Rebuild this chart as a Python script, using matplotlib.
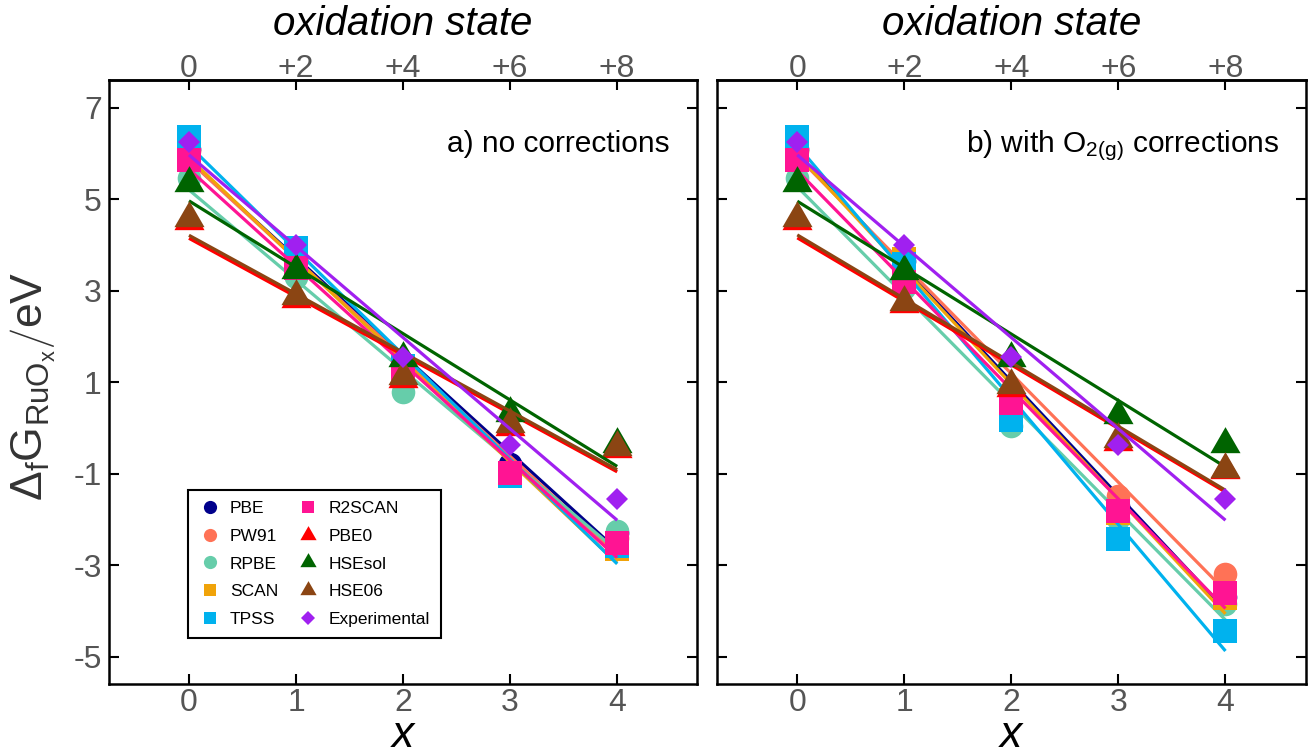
import numpy as np
import matplotlib
matplotlib.use("Agg")
import matplotlib.pyplot as plt
from matplotlib.path import Path
from matplotlib.lines import Line2D

plt.rcParams['font.family'] = ['Liberation Sans', 'DejaVu Sans']
plt.rcParams['mathtext.fontset'] = 'custom'
plt.rcParams['mathtext.rm'] = 'Liberation Sans'
plt.rcParams['mathtext.it'] = 'Liberation Sans:italic'
plt.rcParams['mathtext.bf'] = 'Liberation Sans:bold'
plt.rcParams['axes.unicode_minus'] = False

# ---------------- data ----------------
x_vals = [0, 1, 2, 3, 4]
oxidation_labels = ['0', '+2', '+4', '+6', '+8']
methods = ['PBE', 'PW91', 'RPBE', 'SCAN', 'TPSS', 'R2SCAN', 'PBE0', 'HSEsol', 'HSE06', 'Experimental']

# a) no corrections
pbe_a    = [6.10, 3.70, 1.25, -0.80, -2.30]
pw91_a   = [6.05, 3.70, 1.25, -0.95, -2.40]
rpbe_a   = [5.45, 3.30, 0.79, -1.00, -2.26]
scan_a   = [6.05, 3.70, 1.30, -1.06, -2.64]
tpss_a   = [6.35, 3.93, 1.35, -1.05, -2.59]
r2scan_a = [5.86, 3.49, 1.19, -0.99, -2.51]
pbe0_a   = [4.51, 2.82, 1.07, 0.02, -0.47]
hsesol_a = [5.34, 3.45, 1.53, 0.32, -0.35]
hse06_a  = [4.58, 2.87, 1.13, 0.08, -0.43]
exp_a    = [6.24, 4.00, 1.55, -0.38, -1.55]

# b) with O2(g) corrections
pbe_b    = [6.10, 3.65, 0.70, -1.70, -3.70]
pw91_b   = [6.05, 3.75, 0.80, -1.49, -3.20]
rpbe_b   = [5.45, 3.05, 0.03, -2.00, -3.86]
scan_b   = [6.05, 3.70, 0.60, -1.86, -3.72]
tpss_b   = [6.35, 3.59, 0.17, -2.43, -4.45]
r2scan_b = [5.86, 3.19, 0.54, -1.81, -3.60]
pbe0_b   = [4.51, 2.71, 0.88, -0.30, -0.93]
hsesol_b = [5.34, 3.43, 1.53, 0.29, -0.35]
hse06_b  = [4.58, 2.76, 0.93, -0.25, -0.89]
exp_b    = [6.24, 4.00, 1.55, -0.38, -1.55]

panel_a = [pbe_a, pw91_a, rpbe_a, scan_a, tpss_a, r2scan_a, pbe0_a, hsesol_a, hse06_a, exp_a]
panel_b = [pbe_b, pw91_b, rpbe_b, scan_b, tpss_b, r2scan_b, pbe0_b, hsesol_b, hse06_b, exp_b]

colors = ['#00008B', '#FF7256', '#66CDAA', '#F0A30A', '#00B2EE',
          '#FF1493', '#FF0000', '#006400', '#8B4513', '#A020F0']

# triangle with centroid at origin
tri = Path([(0, 1), (-0.866, -0.5), (0.866, -0.5), (0, 1)],
           [Path.MOVETO, Path.LINETO, Path.LINETO, Path.CLOSEPOLY])
markers = ['o', 'o', 'o', 's', 's', 's', tri, tri, tri, 'D']
msizes  = [17, 17, 17, 17.3, 17.3, 17.3, 25, 25, 25, 11.5]
leg_ms  = [9.5, 9.5, 9.5, 8.5, 8.5, 8.5, 13.5, 13.5, 13.5, 7]

fig = plt.figure(figsize=(13.11, 7.56), dpi=100)
ax1 = fig.add_axes([0.0829, 0.0952, 0.4491, 0.7989])
ax2 = fig.add_axes([0.5469, 0.0952, 0.4491, 0.7989])

tick_col = '#555555'
for ax, data in ((ax1, panel_a), (ax2, panel_b)):
    xs = np.array(x_vals, dtype=float)
    for vals, c, m, ms in zip(data, colors, markers, msizes):
        ys = np.array(vals)
        ax.plot(xs, ys, linestyle='none', marker=m, markersize=ms,
                markerfacecolor=c, markeredgewidth=0, zorder=3)
        k, b = np.polyfit(xs, ys, 1)
        ax.plot([xs[0], xs[-1]], [b + k * xs[0], b + k * xs[-1]],
                color=c, lw=2.3, solid_capstyle='butt', zorder=3)
    ax.set_xlim(-0.75, 4.75)
    ax.set_ylim(-5.6, 7.6)
    ax.set_xticks(x_vals)
    ax.set_yticks([-5, -3, -1, 1, 3, 5, 7])
    ax.tick_params(direction='in', length=7, width=1.5, right=True,
                   labelsize=23, labelcolor=tick_col)
    ax.tick_params(axis='x', pad=2.5)
    ax.tick_params(axis='y', pad=5)
    for s in ax.spines.values():
        s.set_linewidth(1.8)
    sec = ax.secondary_xaxis('top')
    sec.set_xticks(x_vals, labels=oxidation_labels)
    sec.tick_params(direction='in', length=7, width=1.5, labelsize=23,
                    labelcolor=tick_col, pad=-2.5)
    sec.spines['top'].set_linewidth(1.8)
    sec.set_xlabel('oxidation state', fontsize=29, style='italic', labelpad=13)
    bb = ax.get_position()
    fig.text((bb.x0 + bb.x1) / 2, 0.0, 'x', fontsize=32, style='italic',
             ha='center', va='bottom')

ax2.tick_params(labelleft=False)

ax1.text(0.953, 0.881, 'a) no corrections', transform=ax1.transAxes,
         ha='right', va='baseline', fontsize=21.5)
ax2.text(0.955, 0.881, r'b) with O$_{\mathrm{2(g)}}$ corrections', transform=ax2.transAxes,
         ha='right', va='baseline', fontsize=21.5)

handles = [Line2D([], [], linestyle='none', marker=m, markersize=ms,
                  markerfacecolor=c, markeredgewidth=0)
           for m, ms, c in zip(markers, leg_ms, colors)]
leg = ax1.legend(handles, methods, ncol=2, loc='lower left',
                 bbox_to_anchor=(0.135, 0.076), fontsize=12.5,
                 frameon=True, fancybox=False, framealpha=1,
                 edgecolor='black', handlelength=1.2, handletextpad=0.55,
                 columnspacing=1.15, labelspacing=0.72, borderpad=0.65,
                 borderaxespad=0)
leg.get_frame().set_linewidth(1.5)

fig.text(0.025, 0.489,
         r'$\left.\Delta_{\mathrm{f}}\mathrm{G}_{\mathrm{RuO}_{\mathrm{x}}}\right/\mathrm{eV}$',
         rotation=90, ha='center', va='center', fontsize=32, color='#333333')

fig.savefig('out.png', dpi=100)
